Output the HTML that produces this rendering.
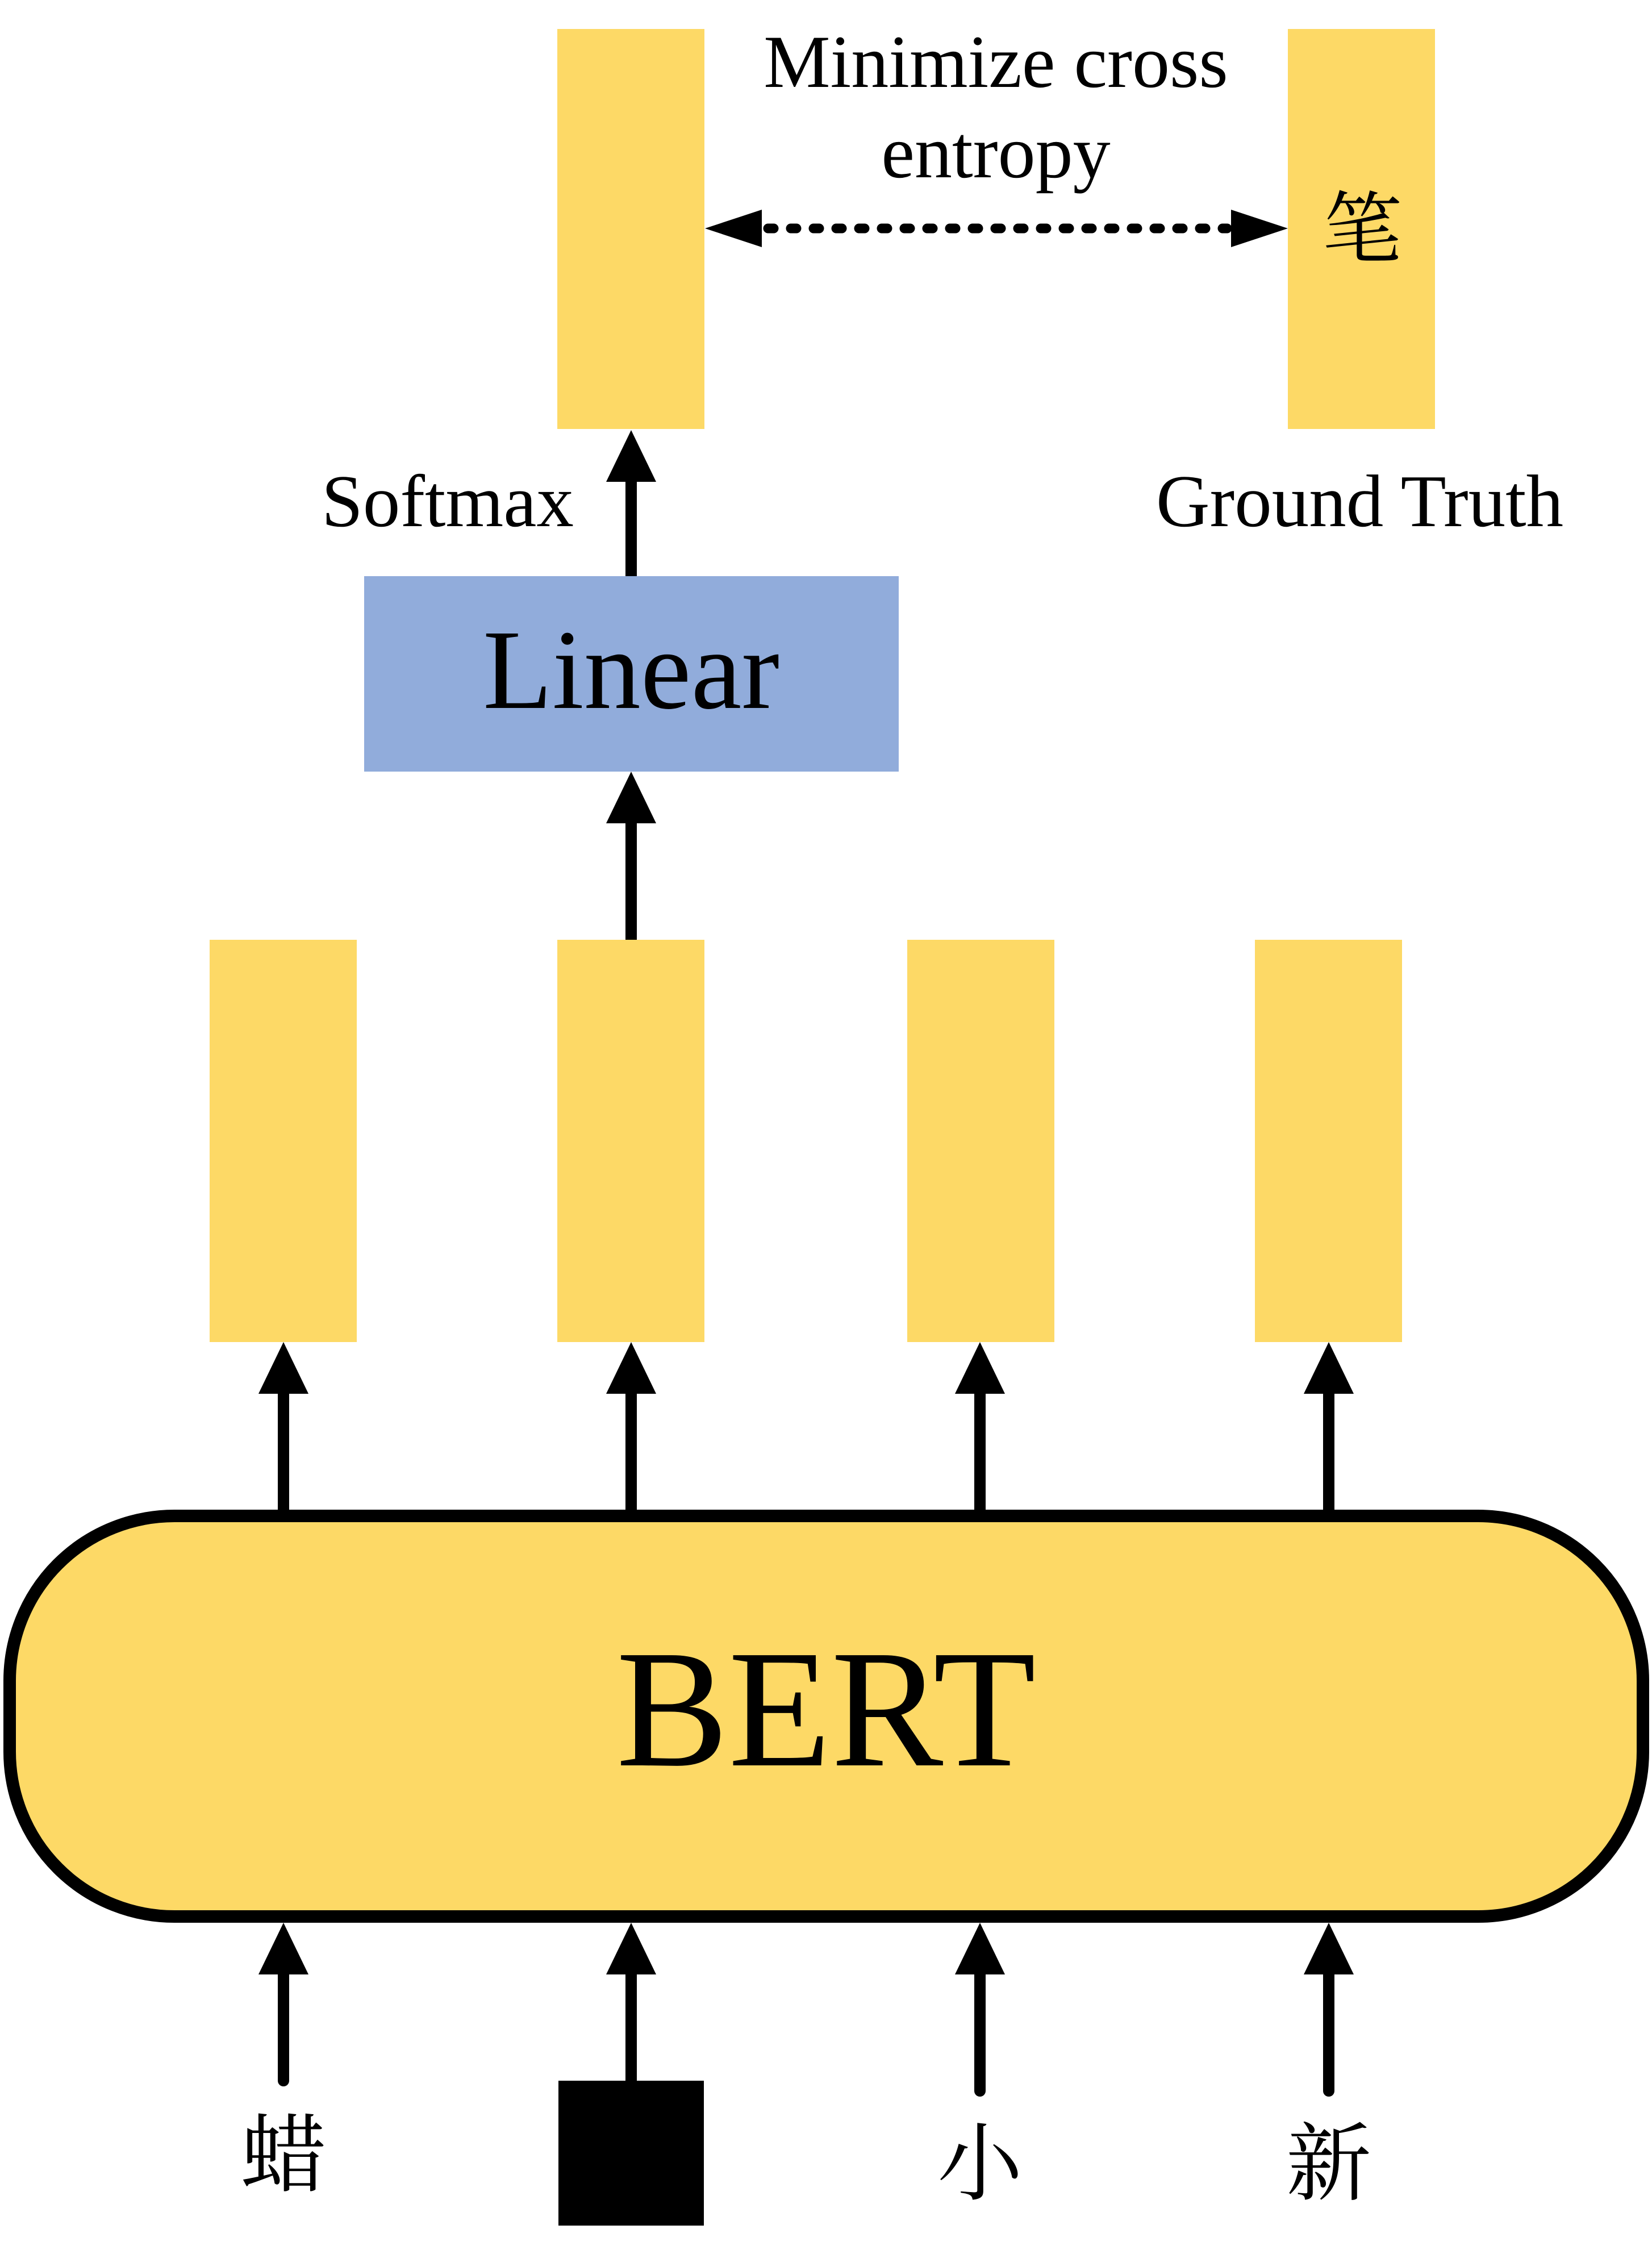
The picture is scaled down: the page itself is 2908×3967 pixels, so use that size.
<!DOCTYPE html>
<html><head><meta charset="utf-8"><style>
html,body{margin:0;padding:0;background:#fff;}
svg{display:block;}
text{font-family:"Liberation Serif","Noto Serif CJK SC",serif;fill:#000;}
</style></head><body>
<svg width="2908" height="3967" viewBox="0 0 2908 3967" xmlns="http://www.w3.org/2000/svg">
<rect x="981" y="51" width="259" height="704" fill="#FDD966"/>
<rect x="2267" y="51" width="259" height="704" fill="#FDD966"/>
<text x="1753" y="153" font-size="132" text-anchor="middle">Minimize cross</text>
<text x="1753" y="312" font-size="132" text-anchor="middle">entropy</text>
<text x="2398" y="452" font-size="140" text-anchor="middle" font-family="Noto Serif CJK SC, serif">笔</text>
<line x1="1352" y1="402" x2="2160" y2="402" stroke="#000" stroke-width="17" stroke-linecap="round" stroke-dasharray="10 30"/>
<polygon points="1241,402 1341,369 1341,435" fill="#000"/>
<polygon points="2267,402 2167,369 2167,435" fill="#000"/>
<line x1="1111" y1="840" x2="1111" y2="1016" stroke="#000" stroke-width="20" stroke-linecap="round"/>
<polygon points="1111,757 1067,848 1155,848" fill="#000"/>
<text x="566" y="926" font-size="131">Softmax</text>
<text x="2035" y="926" font-size="131">Ground Truth</text>
<rect x="641" y="1014" width="941" height="344" fill="#91ACDB"/>
<text x="1111" y="1246" font-size="200" text-anchor="middle">Linear</text>
<line x1="1111" y1="1440" x2="1111" y2="1655" stroke="#000" stroke-width="20" stroke-linecap="round"/>
<polygon points="1111,1358 1067,1449 1155,1449" fill="#000"/>
<rect x="369" y="1654" width="259" height="708" fill="#FDD966"/>
<rect x="981" y="1654" width="259" height="708" fill="#FDD966"/>
<rect x="1597" y="1654" width="259" height="708" fill="#FDD966"/>
<rect x="2209" y="1654" width="259" height="708" fill="#FDD966"/>
<g stroke="#000" stroke-width="20">
<line x1="499" y1="2445" x2="499" y2="2665"/>
<line x1="1111" y1="2445" x2="1111" y2="2665"/>
<line x1="1725" y1="2445" x2="1725" y2="2665"/>
<line x1="2339" y1="2445" x2="2339" y2="2665"/>
</g>
<g fill="#000">
<polygon points="499,2362 455,2453 543,2453"/>
<polygon points="1111,2362 1067,2453 1155,2453"/>
<polygon points="1725,2362 1681,2453 1769,2453"/>
<polygon points="2339,2362 2295,2453 2383,2453"/>
</g>
<rect x="17" y="2668" width="2875" height="705" rx="290" ry="290" fill="#FDD966" stroke="#000" stroke-width="22"/>
<text x="1454" y="3107" font-size="296" text-anchor="middle">BERT</text>
<g stroke="#000" stroke-width="20" stroke-linecap="round">
<line x1="499" y1="3465" x2="499" y2="3662"/>
<line x1="1111" y1="3465" x2="1111" y2="3665"/>
<line x1="1725" y1="3465" x2="1725" y2="3680"/>
<line x1="2339" y1="3465" x2="2339" y2="3680"/>
</g>
<g fill="#000">
<polygon points="499,3384 455,3475 543,3475"/>
<polygon points="1111,3384 1067,3475 1155,3475"/>
<polygon points="1725,3384 1681,3475 1769,3475"/>
<polygon points="2339,3384 2295,3475 2383,3475"/>
</g>
<rect x="983" y="3662" width="256" height="255" fill="#000"/>
<text x="499" y="3845" font-size="150" text-anchor="middle" font-family="Noto Serif CJK SC, serif">蜡</text>
<text x="1725" y="3860" font-size="150" text-anchor="middle" font-family="Noto Serif CJK SC, serif">小</text>
<text x="2339" y="3860" font-size="150" text-anchor="middle" font-family="Noto Serif CJK SC, serif">新</text>
</svg>
</body></html>
